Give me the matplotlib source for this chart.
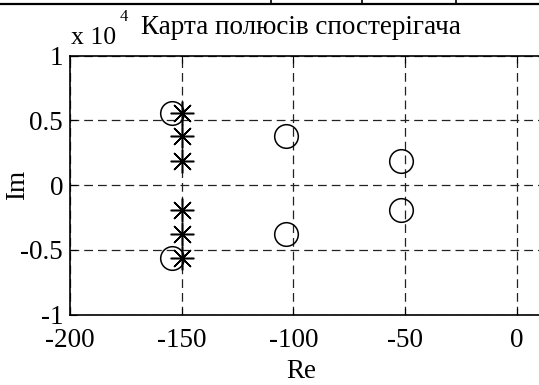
import matplotlib
matplotlib.use("Agg")
import matplotlib.pyplot as plt
from matplotlib.lines import Line2D

plt.rcParams["font.family"] = ["Liberation Serif", "DejaVu Serif"]
plt.rcParams["axes.unicode_minus"] = False

# Observer poles (asterisks) and plant/regulator poles (circles)
STAR_RE = [-150, -150, -150, -150, -150, -150]
STAR_IM = [5600, 3780, 1900, -1900, -3780, -5600]
CIRC_RE = [-154.5, -154.5, -103.4, -103.4, -51.6, -51.6]
CIRC_IM = [5600, -5600, 3780, -3780, 1900, -1900]

X_TICKS = [-200, -150, -100, -50, 0]
Y_TICKS = [-10000, -5000, 0, 5000, 10000]
Y_TICK_LABELS = ["-1", "-0.5", "0", "0.5", "1"]

W, H = 539, 385
fig = plt.figure(figsize=(W / 100, H / 100), dpi=100)

# axes in pixel units; the right part of the original plot is cropped off
left, right, top, bottom = 70, 70 + 250 * 2.233, 55.7, 314.5
ax = fig.add_axes([left / W, 1 - bottom / H, (right - left) / W, (bottom - top) / H])

ax.plot(STAR_RE, STAR_IM, linestyle="none", marker=(8, 2, 0), markersize=17,
        markeredgewidth=1.1, color="black")
ax.plot(CIRC_RE, CIRC_IM, linestyle="none", marker="o", markersize=17,
        markerfacecolor="none", markeredgewidth=1.1, color="black")

ax.set_xlim(-200, 50)
ax.set_ylim(-10000, 10000)
ax.set_xticks(X_TICKS)
ax.set_yticks(Y_TICKS)
ax.set_yticklabels(Y_TICK_LABELS)
ax.tick_params(direction="in", length=5, width=0.8, labelsize=19.5,
               top=True, right=False)
ax.tick_params(axis="x", pad=9.5)
ax.tick_params(axis="y", pad=5)
ax.grid(True, color="#222222", linestyle=(0, (7, 4)), linewidth=0.9)
for s in ["left", "top", "bottom"]:
    ax.spines[s].set_linewidth(1.2)
ax.spines["right"].set_visible(False)

fig.text(301 / W, 1 - 378.5 / H, "Re", ha="center", va="baseline", fontsize=19.5)
fig.text(17.5 / W, 1 - 185 / H, "Im", ha="center", va="center", fontsize=19.5,
         rotation=90)
fig.text(71 / W, 1 - 44 / H, "x 10", ha="left", va="baseline", fontsize=18.5)
fig.text(120 / W, 1 - 21 / H, "4", ha="left", va="baseline", fontsize=12)
fig.text(301 / W, 1 - 34.3 / H, "Карта полюсів спостерігача", ha="center",
         va="baseline", fontsize=19.5)

# remnants of the document table border at the top of the crop
fig.add_artist(Line2D([0, 1], [1 - 3.5 / H] * 2, color="black", linewidth=1.6))
for xp in [271, 362, 456]:
    fig.add_artist(Line2D([xp / W] * 2, [1, 1 - 3.5 / H], color="black", linewidth=1.2))

fig.savefig("out.png", dpi=100)
